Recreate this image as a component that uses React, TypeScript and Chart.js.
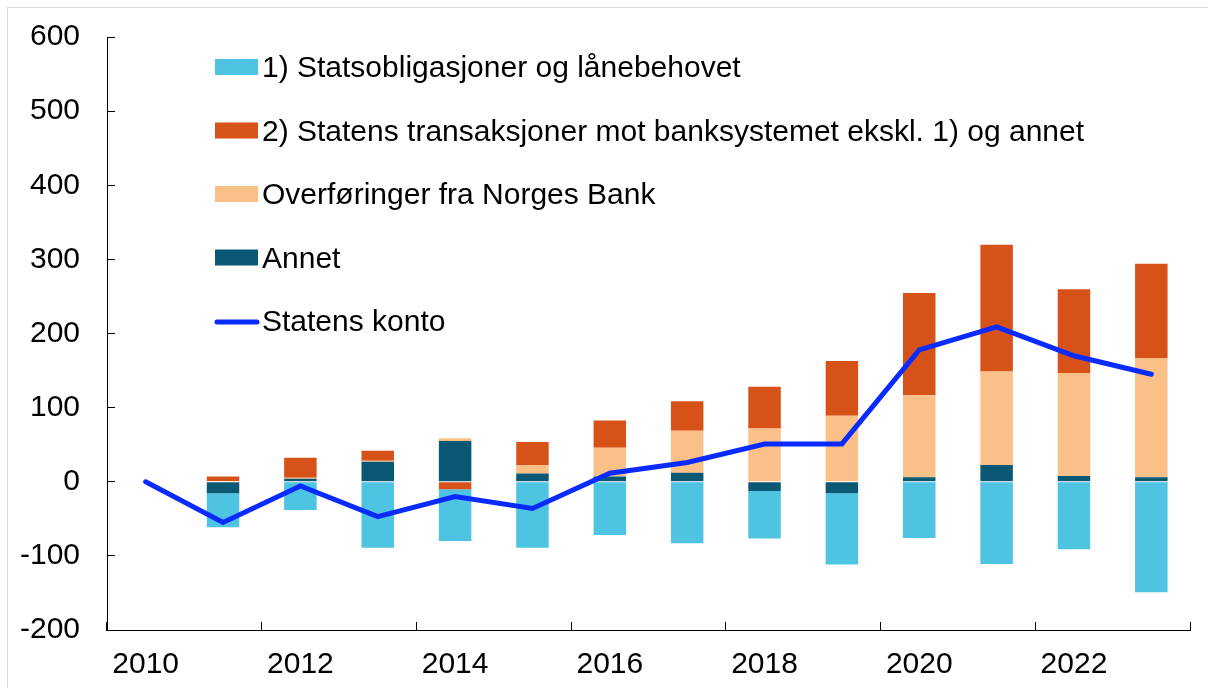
import React, { useEffect, useRef } from "react";
import { Chart, registerables } from "chart.js";

Chart.register(...registerables);

const years = ["2010", "2011", "2012", "2013", "2014", "2015", "2016", "2017", "2018", "2019", "2020", "2021", "2022", "2023"];
const shownYears = ["2010", "2012", "2014", "2016", "2018", "2020", "2022"];

const statsobligasjoner = [null, -46, -38, -89, -70, -89, -72, -83, -64, -96, -76, -111, -91, -149];
const statensTransaksjoner = [null, 6, 27, 13.5, -10, 31, 37, 40, 56, 74, 138, 171, 113, 127];
const overforinger = [null, 1, 1.5, 1.3, 3.6, 11.7, 38.7, 56.7, 72, 89, 110.6, 126, 139, 161];
const annet = [null, -15.5, 4, 27, 55, 11, 7, 12, -12.4, -15.5, 6, 22.7, 7.8, 6];
const statensKonto = [0, -55, -5.7, -47, -20, -36, 11.5, 26, 51, 51, 178, 209, 170, 145];

const yTicks = [-200, -100, 0, 100, 200, 300, 400, 500, 600];

const labelStats = "1) Statsobligasjoner og lånebehovet";
const labelTrans = "2) Statens transaksjoner mot banksystemet ekskl. 1) og annet";
const labelOverf = "Overføringer fra Norges Bank";
const labelAnnet = "Annet";
const labelKonto = "Statens konto";
const legendOrder = [labelStats, labelTrans, labelOverf, labelAnnet, labelKonto];

const FONT = '"Liberation Sans", Arial, sans-serif';
const FONT_SIZE = 30;

const legendPlugin = {
  id: "insideLegend",
  afterDraw(chart: any) {
    const ctx = chart.ctx;
    const left = 207;
    const top = 60;
    const spacing = 63.5;
    ctx.save();
    ctx.font = `${FONT_SIZE}px ${FONT}`;
    ctx.textBaseline = "middle";
    ctx.textAlign = "left";
    legendOrder.forEach((lbl, i) => {
      const ds = chart.data.datasets.find((d: any) => d.label === lbl);
      if (!ds) return;
      const y = top + i * spacing;
      if (ds.type === "line") {
        ctx.strokeStyle = ds.borderColor;
        ctx.lineWidth = 5;
        ctx.lineCap = "round";
        ctx.beginPath();
        ctx.moveTo(left + 2, y);
        ctx.lineTo(left + 42, y);
        ctx.stroke();
      } else {
        ctx.fillStyle = ds.backgroundColor;
        ctx.fillRect(left, y - 9, 43, 16);
      }
      ctx.fillStyle = "#000";
      ctx.fillText(lbl, left + 47, y + 1);
    });
    ctx.restore();
  },
};

export default function App() {
  const ref = useRef<HTMLCanvasElement | null>(null);

  useEffect(() => {
    if (!ref.current) return;
    Chart.defaults.font.family = FONT;
    Chart.defaults.font.size = FONT_SIZE;
    Chart.defaults.color = "#000";
    const chart = new Chart(ref.current, {
      type: "bar",
      data: {
        labels: years,
        datasets: [
          { type: "bar", label: labelAnnet, data: annet, backgroundColor: "#0B5874", borderWidth: 0, barPercentage: 0.42, categoryPercentage: 1 },
          { type: "bar", label: labelOverf, data: overforinger, backgroundColor: "#FBC087", borderWidth: 0, barPercentage: 0.42, categoryPercentage: 1 },
          { type: "bar", label: labelTrans, data: statensTransaksjoner, backgroundColor: "#D65219", borderWidth: 0, barPercentage: 0.42, categoryPercentage: 1 },
          { type: "bar", label: labelStats, data: statsobligasjoner, backgroundColor: "#4EC3E2", borderWidth: 0, barPercentage: 0.42, categoryPercentage: 1 },
          {
            type: "line",
            label: labelKonto,
            data: statensKonto,
            borderColor: "#0A2BFF",
            backgroundColor: "#0A2BFF",
            borderWidth: 5,
            pointRadius: 0,
            tension: 0,
            fill: false,
            borderCapStyle: "round",
            borderJoinStyle: "miter",
            order: -1,
          } as any,
        ],
      },
      options: {
        responsive: false,
        animation: false,
        layout: { padding: { top: 29, right: 18, left: 0, bottom: 0 } },
        plugins: {
          legend: { display: false },
          tooltip: { enabled: false },
          title: { display: false },
        },
        scales: {
          x: {
            stacked: true,
            offset: true,
            afterFit: (s: any) => {
              s.height = 58;
              s.paddingLeft = 0;
              s.paddingRight = 0;
            },
            grid: {
              display: true,
              offset: true,
              drawOnChartArea: false,
              drawTicks: true,
              tickLength: -8,
              tickWidth: 1,
              tickColor: (c: any) => (c.index === undefined || c.index % 2 === 0 ? "#000" : "rgba(0,0,0,0)"),
            },
            border: { display: true, color: "#000", width: 1 },
            ticks: {
              autoSkip: false,
              maxRotation: 0,
              minRotation: 0,
              padding: 25,
              font: { size: FONT_SIZE, family: FONT },
              color: "#000",
              callback: (_v: any, i: number) => (shownYears.includes(years[i]) ? years[i] : ""),
            },
          },
          y: {
            stacked: true,
            min: yTicks[0],
            max: yTicks[yTicks.length - 1],
            afterFit: (s: any) => {
              s.width = 99;
              s.paddingTop = 0;
              s.paddingBottom = 0;
            },
            grid: {
              display: true,
              drawOnChartArea: false,
              drawTicks: true,
              tickLength: -8,
              tickWidth: 1,
              tickColor: "#000",
            },
            border: { display: true, color: "#000", width: 1 },
            ticks: {
              stepSize: 100,
              padding: 35,
              font: { size: FONT_SIZE, family: FONT },
              color: "#000",
              callback: (v: any) => String(v),
            },
          },
        },
      },
      plugins: [legendPlugin],
    });
    return () => chart.destroy();
  }, []);

  return (
    <div
      style={{
        position: "absolute",
        left: 7,
        top: 7,
        width: 1201,
        height: 681,
        boxSizing: "border-box",
        borderTop: "1px solid #d9d9d9",
        borderLeft: "1px solid #d9d9d9",
        background: "#fff",
      }}
    >
      <canvas ref={ref} width={1200} height={680} style={{ display: "block" }} />
    </div>
  );
}
